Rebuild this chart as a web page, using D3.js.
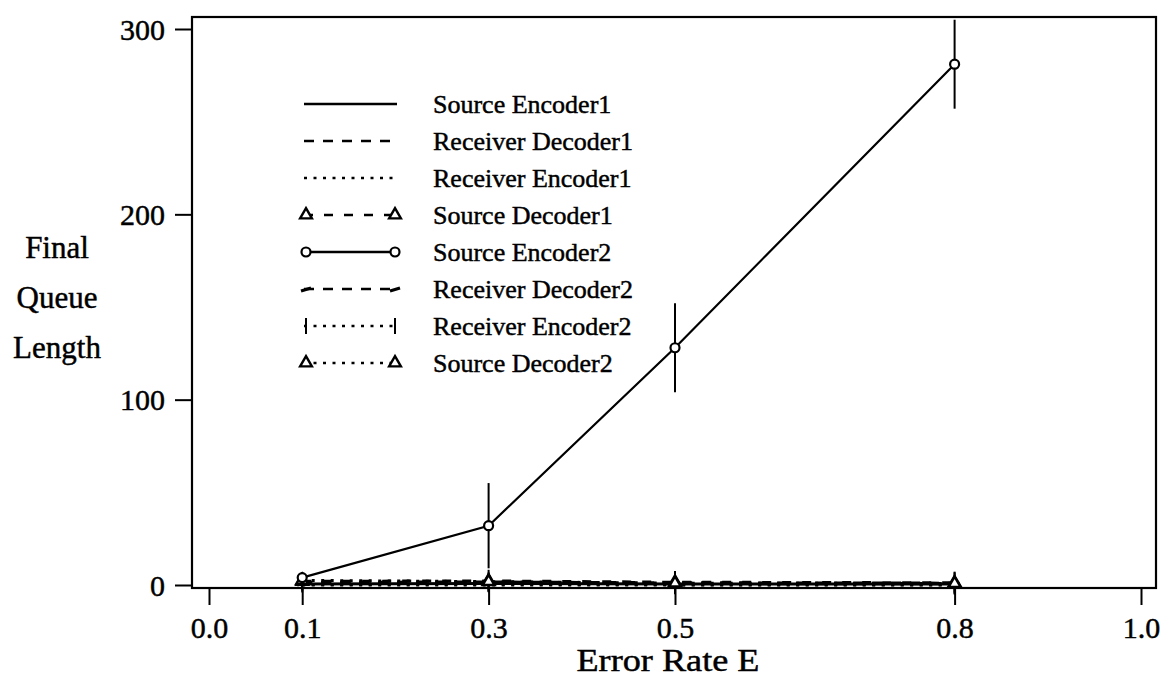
<!DOCTYPE html>
<html>
<head>
<meta charset="utf-8">
<script src="https://cdn.jsdelivr.net/npm/d3@7"></script>
<style>
  body { margin: 0; background: #fff; }
  svg { display: block; }
  text { font-family: "Liberation Serif", "Times New Roman", serif; fill: #000; stroke: #000; stroke-width: 0.45px; }
</style>
</head>
<body>
<svg id="chart" width="1160" height="677"></svg>
<script>
// Error rates at which the simulation was run
const errorRates = [0.1, 0.3, 0.5, 0.8];
const xTickValues = [0.0, 0.1, 0.3, 0.5, 0.8, 1.0];
const yTickValues = [0, 100, 200, 300];

// Final queue lengths (mean) and half-width of the error bars
const sourceEncoder1    = [0.5, 0.8, 0.5, 0.6];
const receiverDecoder1  = [1.5, 1.6, 1.2, 1.0];
const receiverEncoder1  = [0.0, 0.0, 0.0, 0.0];
const sourceDecoder1    = [2.0, 2.2, 1.5, 1.2];
const sourceEncoder2    = [4, 32, 128, 281];
const receiverDecoder2  = [1.0, 1.2, 0.8, 0.6];
const receiverEncoder2  = [0.3, 0.4, 0.2, 0.2];
const sourceDecoder2    = [2.5, 1.8, 1.0, 0.8];

const sourceEncoder1Err   = [1, 1, 1, 1];
const receiverDecoder1Err = [1, 1, 1, 1];
const receiverEncoder1Err = [0, 0, 0, 0];
const sourceDecoder1Err   = [5, 6, 6, 6];
const sourceEncoder2Err   = [3, 23, 24, 24];
const receiverDecoder2Err = [1, 1, 1, 1];
const receiverEncoder2Err = [0, 0, 0, 0];
const sourceDecoder2Err   = [4, 5, 6, 6];

const seriesNames = [
  "Source Encoder1", "Receiver Decoder1", "Receiver Encoder1", "Source Decoder1",
  "Source Encoder2", "Receiver Decoder2", "Receiver Encoder2", "Source Decoder2"
];

// Line style per series: dash pattern and marker kind
const styles = [
  { values: sourceEncoder1,   err: sourceEncoder1Err,   dash: null,    marker: null },
  { values: receiverDecoder1, err: receiverDecoder1Err, dash: "10,9",  marker: null },
  { values: receiverEncoder1, err: receiverEncoder1Err, dash: "3,6.5", marker: null },
  { values: sourceDecoder1,   err: sourceDecoder1Err,   dash: "9,11",  marker: "triangle" },
  { values: sourceEncoder2,   err: sourceEncoder2Err,   dash: null,    marker: "circle" },
  { values: receiverDecoder2, err: receiverDecoder2Err, dash: "10,9",  marker: "flag" },
  { values: receiverEncoder2, err: receiverEncoder2Err, dash: "3,6.5", marker: "bar" },
  { values: sourceDecoder2,   err: sourceDecoder2Err,   dash: "3,6.5", marker: "triangle" }
];

const svg = d3.select("#chart");

const x = d3.scaleLinear().domain([0, 1]).range([209, 1141]);
const y = d3.scaleLinear().domain([0, 300]).range([585, 29]);

// plot frame
const frame = { left: 192, right: 1156, top: 17, bottom: 588 };

svg.append("rect")
  .attr("x", frame.left).attr("y", frame.top)
  .attr("width", frame.right - frame.left)
  .attr("height", frame.bottom - frame.top)
  .attr("fill", "none").attr("stroke", "#000").attr("stroke-width", 2.2);

// y axis
const yAxis = svg.append("g")
  .attr("transform", `translate(${frame.left},0)`)
  .call(d3.axisLeft(y).tickValues(yTickValues).tickSize(17).tickPadding(10).tickFormat(d3.format("d")));
yAxis.select(".domain").remove();
yAxis.selectAll("line").attr("stroke", "#000").attr("stroke-width", 2);
yAxis.selectAll("text").attr("font-size", 30).attr("font-family", "Liberation Serif").attr("dy", "0.34em");

// x axis
const xAxis = svg.append("g")
  .attr("transform", `translate(0,${frame.bottom})`)
  .call(d3.axisBottom(x).tickValues(xTickValues).tickSize(17).tickPadding(12).tickFormat(d3.format(".1f")));
xAxis.select(".domain").remove();
xAxis.selectAll("line").attr("stroke", "#000").attr("stroke-width", 2);
xAxis.selectAll("text").attr("font-size", 30).attr("font-family", "Liberation Serif");

// axis titles
svg.append("text")
  .attr("x", 668).attr("y", 671)
  .attr("text-anchor", "middle")
  .attr("font-size", 31)
  .attr("textLength", 183).attr("lengthAdjust", "spacingAndGlyphs")
  .text("Error Rate E");

const yTitle = ["Final", "Queue", "Length"];
svg.append("g").selectAll("text").data(yTitle).join("text")
  .attr("x", 57).attr("y", (d, i) => 258 + i * 50)
  .attr("text-anchor", "middle")
  .attr("font-size", 31)
  .text(d => d);

// marker drawing
function drawMarker(g, kind, cx, cy) {
  if (kind === "triangle") {
    g.append("path")
      .attr("d", d3.symbol(d3.symbolTriangle, 60)())
      .attr("transform", `translate(${cx},${cy})`)
      .attr("fill", "#fff").attr("stroke", "#000").attr("stroke-width", 2.4);
  } else if (kind === "circle") {
    g.append("circle").attr("cx", cx).attr("cy", cy).attr("r", 4.5)
      .attr("fill", "#fff").attr("stroke", "#000").attr("stroke-width", 2.2);
  } else if (kind === "bar") {
    g.append("line").attr("x1", cx).attr("x2", cx).attr("y1", cy - 8).attr("y2", cy + 8)
      .attr("stroke", "#000").attr("stroke-width", 2);
  } else if (kind === "flag") {
    g.append("path").attr("d", `M${cx - 5},${cy + 2}L${cx + 5},${cy - 1}`)
      .attr("stroke", "#000").attr("stroke-width", 3);
  }
}

const line = d3.line().x(d => x(d.x)).y(d => y(d.y));
const plot = svg.append("g");

// near-zero series first, Source Encoder2 on top
const order = [0, 1, 2, 3, 5, 6, 7, 4];
order.forEach(si => {
  const s = styles[si];
  const pts = errorRates.map((e, i) => ({ x: e, y: s.values[i], err: s.err[i] }));
  const g = plot.append("g");
  g.append("path").datum(pts)
    .attr("d", line)
    .attr("fill", "none").attr("stroke", "#000")
    .attr("stroke-width", si === 4 ? 2.2 : 3)
    .attr("stroke-dasharray", s.dash);
  pts.forEach(p => {
    if (p.err > 0) {
      g.append("line")
        .attr("x1", x(p.x)).attr("x2", x(p.x))
        .attr("y1", Math.max(frame.top, y(p.y + p.err))).attr("y2", y(p.y - p.err))
        .attr("stroke", "#000").attr("stroke-width", 2);
    }
    if (s.marker) drawMarker(g, s.marker, x(p.x), y(p.y));
  });
});

// legend
const legend = svg.append("g");
const legX1 = 304, legX2 = 397, legTextX = 433, legY0 = 104, legStep = 37;
seriesNames.forEach((name, i) => {
  const s = styles[i];
  const ly = legY0 + i * legStep;
  const g = legend.append("g");
  g.append("line")
    .attr("x1", legX1).attr("x2", legX2).attr("y1", ly).attr("y2", ly)
    .attr("stroke", "#000").attr("stroke-width", 2.6)
    .attr("stroke-dasharray", s.dash);
  if (s.marker) {
    drawMarker(g, s.marker, legX1 + 2, ly);
    drawMarker(g, s.marker, legX2 - 2, ly);
  }
  g.append("text")
    .attr("x", legTextX).attr("y", ly + 9)
    .attr("font-size", 26)
    .text(name);
});
</script>
</body>
</html>
